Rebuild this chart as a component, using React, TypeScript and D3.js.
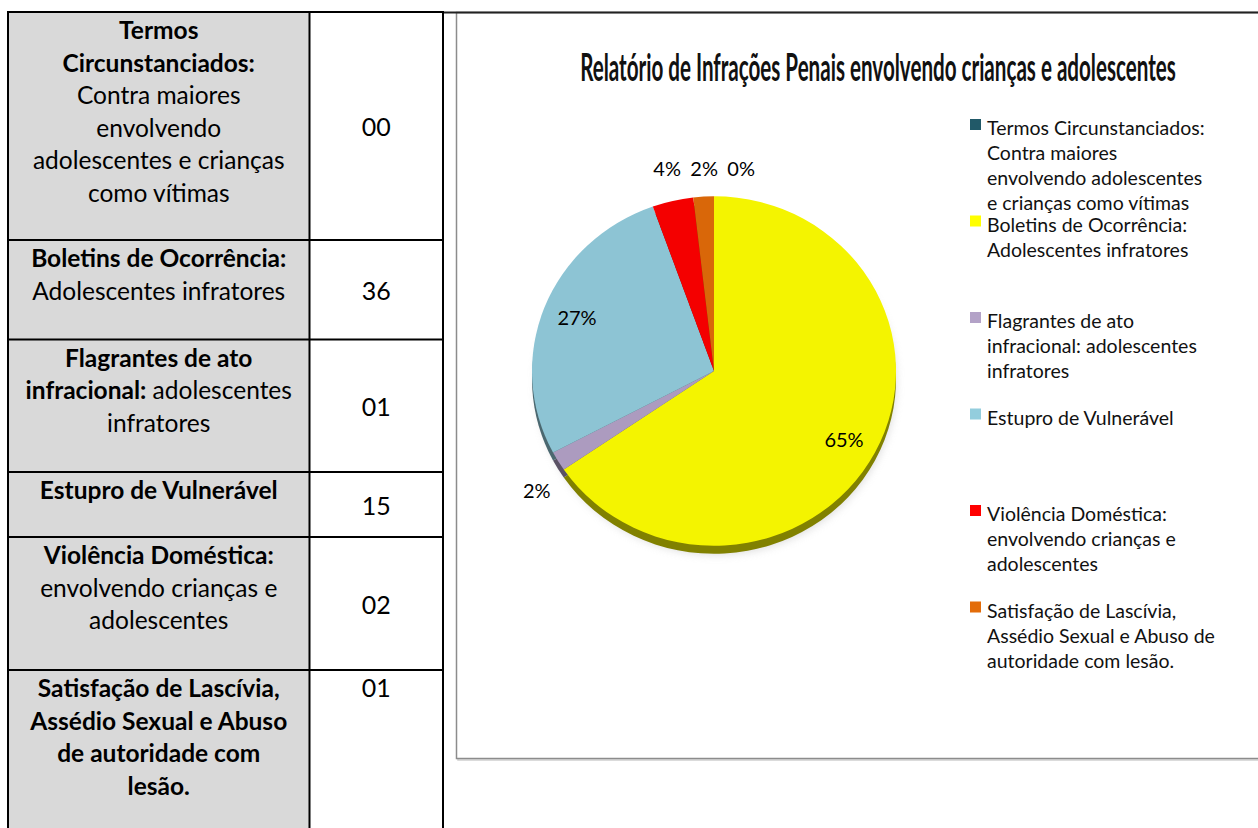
import { useLayoutEffect, useRef, useState } from "react";
import * as d3 from "d3";

const categories = [
  "Termos Circunstanciados: Contra maiores envolvendo adolescentes e crianças como vítimas",
  "Boletins de Ocorrência: Adolescentes infratores",
  "Flagrantes de ato infracional: adolescentes infratores",
  "Estupro de Vulnerável",
  "Violência Doméstica: envolvendo crianças e adolescentes",
  "Satisfação de Lascívia, Assédio Sexual e Abuso de autoridade com lesão.",
];
const values = [0, 36, 1, 15, 2, 1];
const valueLabels = ["00", "36", "01", "15", "02", "01"];
const colors = ["#215968", "#ffff00", "#b3a2c7", "#93cddd", "#ff0000", "#e36c09"];

// table text: each line is a list of [text, bold] runs
const tableLines: [string, boolean][][][] = [
  [
    [["Termos", true]],
    [["Circunstanciados:", true]],
    [["Contra maiores", false]],
    [["envolvendo", false]],
    [["adolescentes e crianças", false]],
    [["como vítimas", false]],
  ],
  [[["Boletins de Ocorrência:", true]], [["Adolescentes infratores", false]]],
  [
    [["Flagrantes de ato", true]],
    [["infracional:", true], [" adolescentes", false]],
    [["infratores", false]],
  ],
  [[["Estupro de Vulnerável", true]]],
  [
    [["Violência Doméstica:", true]],
    [["envolvendo crianças e", false]],
    [["adolescentes", false]],
  ],
  [
    [["Satisfação de Lascívia,", true]],
    [["Assédio Sexual e Abuso", true]],
    [["de autoridade com", true]],
    [["lesão.", true]],
  ],
];

const legendLines = [
  ["Termos Circunstanciados:", "Contra maiores", "envolvendo adolescentes", "e crianças como vítimas"],
  ["Boletins de Ocorrência:", "Adolescentes infratores"],
  ["Flagrantes de ato", "infracional: adolescentes", "infratores"],
  ["Estupro de Vulnerável"],
  ["Violência Doméstica:", "envolvendo crianças e", "adolescentes"],
  ["Satisfação de Lascívia,", "Assédio Sexual e Abuso de", "autoridade com lesão."],
];

const title = "Relatório de Infrações Penais envolvendo crianças e adolescentes";

const W = 1258;
const H = 828;
const font = "Lato, 'Noto Sans', sans-serif";

// table layout
const colX = [8, 309.5, 443];
const rowHeights = [228, 99.5, 132.5, 65, 133, 170];
const tableTop = 12;
const lineStep = 32.5;

// chart layout
const cx = 714;
const cy = 371;
const R = 182;
const squash = 0.96;
const depth = 8;
const titleWidth = 596;

export default function App() {
  const titleRef = useRef<SVGTextElement>(null);
  const [titleScale, setTitleScale] = useState(0.55);

  useLayoutEffect(() => {
    if (titleRef.current) {
      const w = titleRef.current.getComputedTextLength();
      if (w > 0) setTitleScale(titleWidth / w);
    }
  }, []);

  const total = d3.sum(values);
  const pct = (v: number) => `${Math.round((v / total) * 100)}%`;
  const arcs = d3.pie<number>().sort(null).value((d) => d)(values);
  const arc = d3.arc<d3.PieArcDatum<number>>().innerRadius(0).outerRadius(R);

  const rowTops: number[] = [];
  rowHeights.reduce((acc, h) => {
    rowTops.push(acc);
    return acc + h;
  }, tableTop);

  // data labels: big slices inside, small ones outside
  const labels = arcs.map((a, i) => {
    const mid = (a.startAngle + a.endAngle) / 2;
    const share = values[i] / total;
    const outside = share < 0.1;
    const r = outside ? 207 : 147;
    const c = Math.cos(mid);
    return {
      text: pct(values[i]),
      x: cx + r * Math.sin(mid),
      y: cy - r * c + (outside && c < 0 ? depth + 5 : 0),
      outside,
    };
  });
  const top = labels.filter((l) => l.outside && l.y < cy).sort((a, b) => a.x - b.x);
  for (let i = 1; i < top.length; i++) {
    if (top[i].x < top[i - 1].x + 37) top[i].x = top[i - 1].x + 37;
  }
  const topY = d3.max(top, (l) => l.y) ?? cy;
  top.forEach((l) => (l.y = topY));

  const legendStart = 128;
  const legendStep = 96.5;

  return (
    <svg
      width={W}
      height={H}
      style={{ position: "absolute", left: 0, top: 0, display: "block", background: "#fff" }}
      fontFamily={font}
    >
      <defs>
        <filter id="blur" x="-20%" y="-20%" width="140%" height="140%">
          <feGaussianBlur stdDeviation="4" />
        </filter>
      </defs>

      {/* chart frame */}
      <rect x={458} y={14} width={820} height={746} fill="none" stroke="#d0d0d0" strokeWidth={1.5} />
      <rect x={456.5} y={12.5} width={820} height={746} fill="#fff" stroke="#8c8c8c" strokeWidth={1.5} />
      <line x1={443} x2={W} y1={12.5} y2={12.5} stroke="#222" strokeWidth={2} />

      <text
        ref={titleRef}
        transform={`translate(878,81) scale(${titleScale},1)`}
        textAnchor="middle"
        fontWeight={700}
        fontSize={39}
        fill="#111"
      >
        {title}
      </text>

      {/* pie shadow and depth */}
      <ellipse cx={cx + 2} cy={cy + depth + 3} rx={R - 2} ry={R * squash - 2} fill="#aaa" opacity={0.4} filter="url(#blur)" />
      <g transform={`translate(${cx},${cy + depth}) scale(1,${squash})`}>
        {arcs.map((a, i) => (
          <path key={i} d={arc(a) ?? ""} fill={d3.color(colors[i])!.darker(1.9).formatHex()} />
        ))}
      </g>
      <g transform={`translate(${cx},${cy}) scale(1,${squash})`}>
        {arcs.map((a, i) => (
          <path key={i} d={arc(a) ?? ""} fill={d3.color(colors[i])!.darker(0.12).formatHex()} />
        ))}
      </g>
      {labels.map((l, i) => (
        <text key={i} x={l.x} y={l.y + 7} textAnchor="middle" fontSize={20} fill="#000">
          {l.text}
        </text>
      ))}

      {/* legend */}
      {legendLines.map((lines, i) => {
        const y0 = legendStart + i * legendStep;
        return (
          <g key={i}>
            <rect x={970} y={y0 - 9} width={11} height={11} fill={colors[i]} />
            {lines.map((t, j) => (
              <text key={j} x={987} y={y0 + 7 + j * 25} fontSize={19.5} fill="#111">
                {t}
              </text>
            ))}
          </g>
        );
      })}

      {/* table */}
      {rowHeights.map((h, i) => (
        <rect key={i} x={colX[0]} y={rowTops[i]} width={colX[1] - colX[0]} height={h} fill="#d9d9d9" />
      ))}
      {tableLines.map((lines, i) => (
        <g key={i}>
          {lines.map((runs, j) => (
            <text
              key={j}
              x={(colX[0] + colX[1]) / 2}
              y={rowTops[i] + 27 + j * lineStep}
              textAnchor="middle"
              fontSize={24.5}
              fill="#000"
            >
              {runs.map(([t, b], k) => (
                <tspan key={k} fontWeight={b ? 700 : 400}>
                  {t}
                </tspan>
              ))}
            </text>
          ))}
          <text
            x={(colX[1] + colX[2]) / 2}
            y={i === rowHeights.length - 1 ? rowTops[i] + 27 : rowTops[i] + rowHeights[i] / 2 + 10}
            textAnchor="middle"
            fontSize={25}
            fill="#000"
          >
            {valueLabels[i]}
          </text>
        </g>
      ))}
      <g stroke="#000" strokeWidth={2}>
        {colX.map((x, i) => (
          <line key={i} x1={x} x2={x} y1={tableTop - 1} y2={H} />
        ))}
        {rowTops.map((y, i) => (
          <line key={i} x1={colX[0] - 1} x2={colX[2] + 1} y1={y} y2={y} />
        ))}
      </g>
      <title>{categories.join("; ")}</title>
    </svg>
  );
}
